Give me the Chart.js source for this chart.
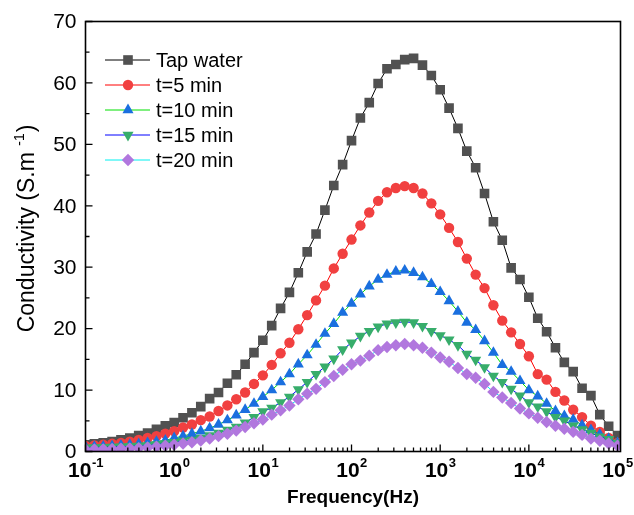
<!DOCTYPE html>
<html><head><meta charset="utf-8">
<script src="https://cdn.jsdelivr.net/npm/chart.js@4/dist/chart.umd.min.js"></script>
<style>html,body{margin:0;padding:0;background:#fff}#wrap{width:634px;height:515px;position:relative}</style>
</head><body><div id="wrap"><canvas id="c" width="634" height="515"></canvas></div>
<script>
// Frequency (Hz), 10 points per decade
const frequencies = [
  0.1, 0.1259, 0.1585, 0.1995, 0.2512, 0.3162, 0.3981, 0.5012, 0.631, 0.7943,
  1, 1.259, 1.585, 1.995, 2.512, 3.162, 3.981, 5.012, 6.31, 7.943,
  10, 12.59, 15.85, 19.95, 25.12, 31.62, 39.81, 50.12, 63.1, 79.43,
  100, 125.9, 158.5, 199.5, 251.2, 316.2, 398.1, 501.2, 631, 794.3,
  1000, 1259, 1585, 1995, 2512, 3162, 3981, 5012, 6310, 7943,
  10000, 12590, 15850, 19950, 25120, 31620, 39810, 50120, 63100, 79430,
  100000
];
const tapWater = [
  1.1, 1.25, 1.4, 1.6, 1.9, 2.2, 2.6, 3.0, 3.6, 4.2,
  4.7, 5.5, 6.3, 7.3, 8.6, 9.6, 11.1, 12.5, 14.2, 16.1,
  18.1, 20.5, 23.3, 25.9, 29.1, 32.5, 35.4, 39.3, 43.3, 46.7,
  50.6, 54.3, 56.8, 59.9, 62.3, 63.0, 63.8, 64.0, 62.9, 61.2,
  58.9, 55.9, 52.6, 48.9, 46.2, 42.0, 37.4, 34.4, 29.9, 28.0,
  25.1, 21.7, 19.5, 16.9, 14.5, 13.0, 10.3, 9.1, 6.0, 4.1,
  2.6
];
const t5min = [
  0.9, 1.0, 1.1, 1.25, 1.4, 1.6, 1.9, 2.2, 2.5, 2.9,
  3.3, 3.9, 4.4, 5.1, 5.7, 6.6, 7.5, 8.5, 9.6, 11.0,
  12.4, 14.1, 16.0, 17.7, 19.9, 22.2, 24.6, 27.0, 29.8, 32.2,
  34.5, 36.8, 38.9, 40.8, 42.2, 42.9, 43.2, 42.9, 42.0, 40.4,
  38.6, 36.4, 34.1, 31.4, 28.8, 26.6, 23.8, 21.3, 19.4, 17.5,
  15.5, 12.6, 11.7, 9.7, 8.3, 6.8, 5.6, 4.2, 3.2, 2.2,
  1.4
];
const t10min = [
  0.75, 0.8, 0.85, 0.9, 1.0, 1.1, 1.25, 1.4, 1.6, 1.8,
  2.2, 2.5, 2.9, 3.3, 3.8, 4.4, 5.1, 5.9, 6.8, 7.8,
  8.9, 10.0, 11.3, 12.6, 14.2, 15.7, 17.4, 19.2, 20.8, 22.6,
  24.1, 25.6, 26.9, 28.0, 28.8, 29.3, 29.5, 29.1, 28.4, 27.3,
  26.0, 24.5, 22.8, 21.0, 19.8, 18.0, 16.1, 14.1, 13.0, 11.5,
  10.0, 9.0, 7.8, 6.6, 5.8, 5.2, 4.3, 3.5, 2.8, 2.1,
  1.4
];
const t15min = [
  0.6, 0.65, 0.7, 0.75, 0.8, 0.85, 0.9, 1.0, 1.15, 1.3,
  1.5, 1.7, 1.9, 2.2, 2.6, 3.0, 3.5, 4.0, 4.7, 5.6,
  6.5, 7.1, 8.0, 8.9, 10.1, 11.3, 12.6, 13.8, 15.1, 16.6,
  17.7, 18.8, 19.6, 20.3, 20.8, 21.0, 21.1, 21.0, 20.4, 19.6,
  18.9, 18.2, 17.3, 15.9, 14.9, 13.7, 12.3, 11.3, 10.2, 9.1,
  8.0, 7.3, 6.5, 5.6, 5.0, 4.2, 3.6, 3.0, 2.4, 2.0,
  1.4
];
const t20min = [
  0.3, 0.33, 0.35, 0.4, 0.45, 0.5, 0.55, 0.65, 0.77, 0.93,
  1.1, 1.3, 1.5, 1.8, 2.1, 2.5, 2.9, 3.4, 4.0, 4.6,
  5.2, 6.0, 6.7, 7.5, 8.5, 9.4, 10.2, 11.3, 12.3, 13.3,
  14.2, 14.8, 15.6, 16.5, 17.0, 17.3, 17.5, 17.3, 16.9, 16.1,
  15.3, 14.6, 13.6, 12.6, 12.0, 11.0, 9.7, 8.8, 7.9, 7.0,
  6.2, 5.5, 4.8, 4.2, 3.7, 3.2, 2.7, 2.1, 1.75, 1.3,
  0.95
];
const seriesLabels = ['Tap water', 't=5 min', 't=10 min', 't=15 min', 't=20 min'];
const xTickValues = [0.1, 1, 10, 100, 1000, 10000, 100000];
const xTickExponents = ['-1', '0', '1', '2', '3', '4', '5'];
const yTickValues = [0, 10, 20, 30, 40, 50, 60, 70];
const yMinorTickValues = [5, 15, 25, 35, 45, 55, 65];

const FONT = '"Liberation Sans", Arial, Helvetica, sans-serif';
const styles = [
  {fill: '#515151', line: '#000000', pointStyle: 'rect', radius: 6.8, rotation: 0},
  {fill: '#F14040', line: '#FF0000', pointStyle: 'circle', radius: 5.2, rotation: 0},
  {fill: '#1A6FDF', line: '#00E000', pointStyle: 'triangle', radius: 6.4, rotation: 0},
  {fill: '#37AD6B', line: '#0000FF', pointStyle: 'triangle', radius: 6.4, rotation: 180},
  {fill: '#B177DE', line: '#00F0F0', pointStyle: 'rectRot', radius: 6.2, rotation: 0}
];
const seriesValues = [tapWater, t5min, t10min, t15min, t20min];

const datasets = seriesValues.map((vals, k) => ({
  label: seriesLabels[k],
  data: frequencies.map((f, i) => ({x: f, y: vals[i]})),
  showLine: true,
  borderColor: styles[k].line,
  borderWidth: 1,
  backgroundColor: styles[k].fill,
  pointStyle: styles[k].pointStyle,
  pointRotation: styles[k].rotation,
  pointRadius: styles[k].radius,
  pointBackgroundColor: styles[k].fill,
  pointBorderColor: styles[k].fill,
  pointBorderWidth: 0,
  order: 5 - k
}));

const framePlugin = {
  id: 'framePlugin',
  afterDraw(chart) {
    const ctx = chart.ctx;
    const a = chart.chartArea;
    const xs = chart.scales.x, ys = chart.scales.y;
    ctx.save();
    // frame
    ctx.strokeStyle = '#000';
    ctx.lineWidth = 1.6;
    ctx.strokeRect(a.left, a.top, a.right - a.left, a.bottom - a.top);
    ctx.lineWidth = 1.3;
    ctx.beginPath();
    // x ticks (inward)
    for (let d = -1; d <= 5; d++) {
      const base = Math.pow(10, d);
      const px = xs.getPixelForValue(base);
      ctx.moveTo(px, a.bottom); ctx.lineTo(px, a.bottom - 7);
      if (d < 5) {
        for (let m = 2; m <= 9; m++) {
          const mx = xs.getPixelForValue(m * base);
          ctx.moveTo(mx, a.bottom); ctx.lineTo(mx, a.bottom - 4);
        }
      }
    }
    // y ticks
    yTickValues.forEach(v => {
      const py = ys.getPixelForValue(v);
      ctx.moveTo(a.left, py); ctx.lineTo(a.left + 7, py);
    });
    yMinorTickValues.forEach(v => {
      const py = ys.getPixelForValue(v);
      ctx.moveTo(a.left, py); ctx.lineTo(a.left + 4, py);
    });
    ctx.stroke();

    // y tick labels
    ctx.fillStyle = '#000';
    ctx.font = '21px ' + FONT;
    ctx.textAlign = 'right';
    ctx.textBaseline = 'middle';
    yTickValues.forEach(v => {
      ctx.fillText(String(v), a.left - 9, ys.getPixelForValue(v) + 1);
    });

    // x tick labels 10^n
    ctx.textBaseline = 'alphabetic';
    ctx.textAlign = 'left';
    xTickValues.forEach((v, i) => {
      const px = xs.getPixelForValue(v);
      ctx.font = 'bold 21px ' + FONT;
      const wb = ctx.measureText('10').width;
      ctx.font = 'bold 13px ' + FONT;
      const we = ctx.measureText(xTickExponents[i]).width;
      const x0 = px - (wb + we) / 2;
      ctx.font = 'bold 21px ' + FONT;
      ctx.fillText('10', x0, 477);
      ctx.font = 'bold 13px ' + FONT;
      ctx.fillText(xTickExponents[i], x0 + wb + 0.5, 467);
    });

    // x title
    ctx.font = 'bold 19px ' + FONT;
    ctx.textAlign = 'center';
    ctx.fillText('Frequency(Hz)', (a.left + a.right) / 2, 503);

    // y title (rotated)
    ctx.save();
    ctx.translate(34, 229);
    ctx.rotate(-Math.PI / 2);
    const p1 = 'Conductivity (S.m', p2 = '-1', p3 = ')';
    ctx.font = '23px ' + FONT;
    const w1 = ctx.measureText(p1).width;
    const wsp = ctx.measureText(' ').width;
    const w3 = ctx.measureText(p3).width;
    ctx.font = '14px ' + FONT;
    const w2 = ctx.measureText(p2).width;
    const total = w1 + wsp + w2 + w3;
    let cx = -total / 2;
    ctx.textAlign = 'left';
    ctx.font = '23px ' + FONT;
    ctx.fillText(p1, cx, 0); cx += w1 + wsp;
    ctx.font = '14px ' + FONT;
    ctx.fillText(p2, cx, -10); cx += w2 + 1;
    ctx.font = '23px ' + FONT;
    ctx.fillText(p3, cx, 0);
    ctx.restore();

    // legend
    ctx.textAlign = 'left';
    ctx.textBaseline = 'middle';
    seriesLabels.forEach((lab, k) => {
      const y = 60 + 25 * k;
      ctx.strokeStyle = styles[k].line;
      ctx.lineWidth = 1;
      ctx.beginPath();
      ctx.moveTo(105, y); ctx.lineTo(150, y);
      ctx.stroke();
      ctx.fillStyle = styles[k].fill;
      Chart.helpers.drawPoint(ctx, {
        pointStyle: styles[k].pointStyle,
        rotation: styles[k].rotation,
        radius: styles[k].radius,
        borderWidth: 0
      }, 128, y);
      ctx.fillStyle = '#000';
      ctx.font = '20px ' + FONT;
      ctx.fillText(lab, 156, y + 1);
    });
    ctx.restore();
  }
};

new Chart(document.getElementById('c'), {
  type: 'scatter',
  data: {datasets},
  options: {
    responsive: false,
    animation: false,
    devicePixelRatio: 1,
    layout: {padding: {left: 85.5, right: 13.5, top: 21.5, bottom: 63.5}},
    plugins: {legend: {display: false}, tooltip: {enabled: false}},
    scales: {
      x: {type: 'logarithmic', min: 0.1, max: 108000, display: false},
      y: {type: 'linear', min: 0, max: 70, display: false}
    }
  },
  plugins: [framePlugin]
});
</script>
</body></html>
